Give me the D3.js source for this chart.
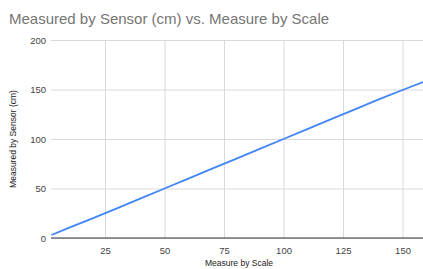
<!doctype html>
<html>
<head>
  <meta charset="utf-8">
  <title>Measured by Sensor vs. Measure by Scale</title>
  <style>
    html, body { margin: 0; padding: 0; background: #fff; }
    #chart { width: 423px; height: 269px; overflow: hidden; }
    text { font-family: Arial, "Liberation Sans", sans-serif; }
  </style>
</head>
<body>
  <div id="chart"></div>
  <script src="https://d3js.org/d3.v7.min.js"></script>
  <script>
    // values
    const scaleCm = [2.5, 10, 20, 30, 40, 50, 60, 70, 80, 90, 100, 110, 120, 130, 140, 150, 158.6];
    const sensorCm = [3, 10.5, 20, 30, 40, 50, 60, 70, 80, 90, 100, 110, 120, 130, 140, 149.5, 157.5];
    const xTicks = [25, 50, 75, 100, 125, 150];
    const yTicks = [0, 50, 100, 150, 200];

    const W = 423, H = 269;
    const plotLeft = 51, plotRight = 423, plotTop = 40, plotBottom = 238;

    const svg = d3.select('#chart').append('svg')
      .attr('width', W)
      .attr('height', H);

    const x = d3.scaleLinear().domain([2.3, 158.6]).range([plotLeft, plotRight]);
    const y = d3.scaleLinear().domain([0, 200]).range([plotBottom, plotTop]);

    // title
    svg.append('text')
      .attr('x', 9)
      .attr('y', 24)
      .style('font-size', '15px')
      .style('fill', '#757575')
      .text('Measured by Sensor (cm) vs. Measure by Scale');

    // horizontal grid + y labels
    const yAxis = d3.axisLeft(y).tickValues(yTicks).tickSize(-(plotRight - plotLeft)).tickPadding(6);
    const gy = svg.append('g').attr('transform', `translate(${plotLeft},0)`).call(yAxis);
    gy.select('.domain').remove();
    gy.selectAll('.tick line').attr('stroke', '#d9d9d9').attr('stroke-width', 1);
    gy.selectAll('.tick text')
      .style('font-size', '9.5px')
      .style('fill', '#444')
      .attr('x', -5);

    // vertical grid + x labels
    const xAxis = d3.axisBottom(x).tickValues(xTicks).tickSize(-(plotBottom - plotTop)).tickPadding(9);
    const gx = svg.append('g').attr('transform', `translate(0,${plotBottom})`).call(xAxis);
    gx.select('.domain').remove();
    gx.selectAll('.tick line').attr('stroke', '#d9d9d9').attr('stroke-width', 1);
    gx.selectAll('.tick text')
      .style('font-size', '9.5px')
      .style('fill', '#444');

    // baseline
    svg.append('line')
      .attr('x1', plotLeft).attr('x2', plotRight)
      .attr('y1', y(0)).attr('y2', y(0))
      .attr('stroke', '#333').attr('stroke-width', 1);

    // series line
    const pts = scaleCm.map((d, i) => [d, sensorCm[i]]);
    svg.append('path')
      .datum(pts)
      .attr('fill', 'none')
      .attr('stroke', '#4285f4')
      .attr('stroke-width', 1.8)
      .attr('d', d3.line().x(d => x(d[0])).y(d => y(d[1])));

    // axis titles
    svg.append('text')
      .attr('x', (plotLeft + plotRight) / 2 + 2)
      .attr('y', 266)
      .attr('text-anchor', 'middle')
      .style('font-size', '8.5px')
      .style('fill', '#222')
      .text('Measure by Scale');

    svg.append('text')
      .attr('transform', `translate(16,${(plotTop + plotBottom) / 2}) rotate(-90)`)
      .attr('text-anchor', 'middle')
      .style('font-size', '8.5px')
      .style('fill', '#222')
      .text('Measured by Sensor (cm)');
  </script>
</body>
</html>
